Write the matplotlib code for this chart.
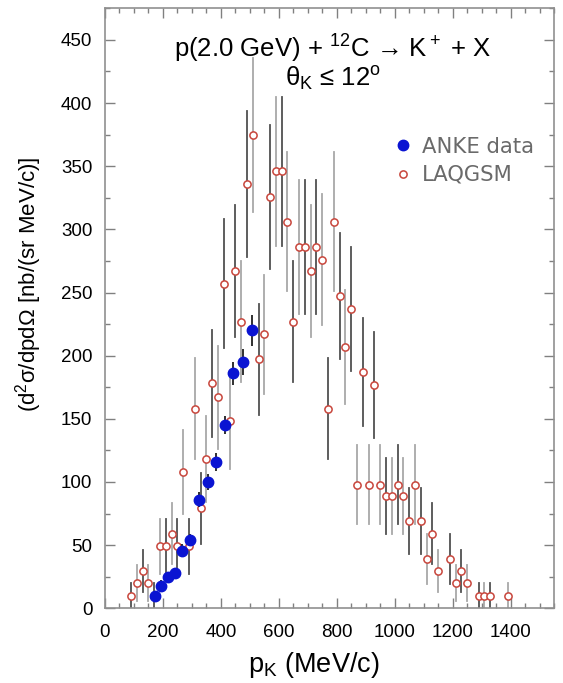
import matplotlib
matplotlib.use("Agg")
import matplotlib.pyplot as plt
from matplotlib.ticker import MultipleLocator
from matplotlib.lines import Line2D

plt.rcParams["font.family"] = ["Liberation Sans", "DejaVu Sans"]
plt.rcParams["mathtext.fontset"] = "custom"
plt.rcParams["mathtext.rm"] = "Liberation Sans"
plt.rcParams["mathtext.it"] = "Liberation Sans"
plt.rcParams["mathtext.bf"] = "Liberation Sans:bold"

# ANKE data (MeV/c, nb/(sr MeV/c))
anke_p = [171, 192, 217, 241, 267, 294, 324, 354, 384, 415, 443, 476, 508]
anke_val = [10, 18, 24.5, 28, 45.5, 54, 86, 100, 116, 145, 186, 195, 220]
anke_err = [3, 4, 4, 4, 5, 5, 6, 6, 7, 7, 9, 10, 12]

# LAQGSM simulation
laq_p = [90, 110, 130, 150, 170, 190, 210, 230, 250, 270, 290, 310, 330, 350,
         370, 390, 410, 430, 450, 470, 490, 510, 530, 550, 570, 590, 610, 630,
         650, 670, 690, 710, 730, 750, 770, 790, 810, 830, 850, 870, 890, 910,
         930, 950, 970, 990, 1010, 1030, 1050, 1070, 1090, 1110, 1130, 1150,
         1190, 1210, 1230, 1250, 1290, 1310, 1330, 1390]
laq_val = [10, 20, 29.5, 20, 10, 49, 49, 59, 49, 108, 49, 158, 79, 118,
           178, 167, 257, 148, 267, 227, 336, 375, 197, 217, 326, 346, 346, 306,
           227, 286, 286, 267, 286, 276, 158, 306, 247, 207, 237, 98, 187, 98,
           177, 98, 89, 89, 98, 89, 69, 98, 69, 39, 59, 29.5,
           39, 20, 29.5, 20, 10, 10, 10, 10]
laq_err = [10, 14, 17, 14, 10, 22, 22, 24, 22, 33, 22, 40, 28, 34,
           42, 41, 51, 38, 52, 48, 58, 61, 44, 47, 57, 59, 59, 55,
           48, 53, 53, 52, 53, 52, 40, 55, 50, 45, 49, 31, 43, 31,
           42, 31, 30, 30, 31, 30, 26, 31, 26, 20, 24, 17,
           20, 14, 17, 14, 10, 10, 10, 10]

fig = plt.figure(figsize=(5.63, 6.83), dpi=100)
ax = fig.add_axes([0.1865, 0.1094, 0.7975, 0.8784])

red = "#c8463c"
blue = "#0a14d2"
for i, (p, v, e) in enumerate(zip(laq_p, laq_val, laq_err)):
    shade = "#505050" if i % 2 == 0 else "#a8a8a8"
    ax.plot([p, p], [max(v - e, 0), v + e], color=shade, lw=1.3, zorder=1)
ax.plot(laq_p, laq_val, "o", ms=5.2, mfc="white", mec=red, mew=1.1,
        ls="none", zorder=2)

ax.errorbar(anke_p, anke_val, yerr=anke_err, fmt="o", ms=7.5, color=blue,
            mec=blue, ecolor="#202020", elinewidth=1.3, capsize=0, zorder=3)

ax.set_xlim(0, 1550)
ax.set_ylim(0, 475)
ax.xaxis.set_major_locator(MultipleLocator(200))
ax.xaxis.set_minor_locator(MultipleLocator(50))
ax.yaxis.set_major_locator(MultipleLocator(50))
ax.yaxis.set_minor_locator(MultipleLocator(25))
ax.tick_params(which="both", direction="in", top=True, right=True,
               color="#808080", labelsize=13.5)
ax.tick_params(axis="x", pad=11)
ax.tick_params(axis="y", pad=9)
ax.tick_params(which="major", length=7, width=1)
ax.tick_params(which="minor", length=3.5, width=1)
for s in ax.spines.values():
    s.set_color("#909090")
    s.set_linewidth(1.2)

ax.set_xlabel(r"p$_\mathregular{K}$ (MeV/c)", fontsize=19.5)
ax.xaxis.set_label_coords(0.466, -0.07)
ax.set_ylabel(r"(d$^\mathregular{2}$σ/dpdΩ [nb/(sr MeV/c)]", fontsize=16)
ax.yaxis.set_label_coords(-0.135, 0.54)

ax.text(0.508, 0.933, "p(2.0 GeV) + $^{12}$C → K$^+$ + X",
        transform=ax.transAxes, ha="center", va="center", fontsize=18.5)
ax.text(0.508, 0.883, r"θ$_\mathregular{K}$ ≤ 12$^\mathregular{o}$",
        transform=ax.transAxes, ha="center", va="center", fontsize=18.5)

handles = [
    Line2D([], [], marker="o", ls="none", ms=7.5, color=blue),
    Line2D([], [], marker="o", ls="none", ms=5.2, mfc="white", mec=red, mew=1.1),
]
leg = ax.legend(handles, ["ANKE data", "LAQGSM"], loc="upper left",
                bbox_to_anchor=(0.593, 0.818), frameon=False,
                prop={"family": "DejaVu Sans", "size": 15.2},
                handletextpad=0.3, labelspacing=0.4, handlelength=1.2)
for t in leg.get_texts():
    t.set_color("#6a6a6a")

fig.savefig("out.png", dpi=100)
